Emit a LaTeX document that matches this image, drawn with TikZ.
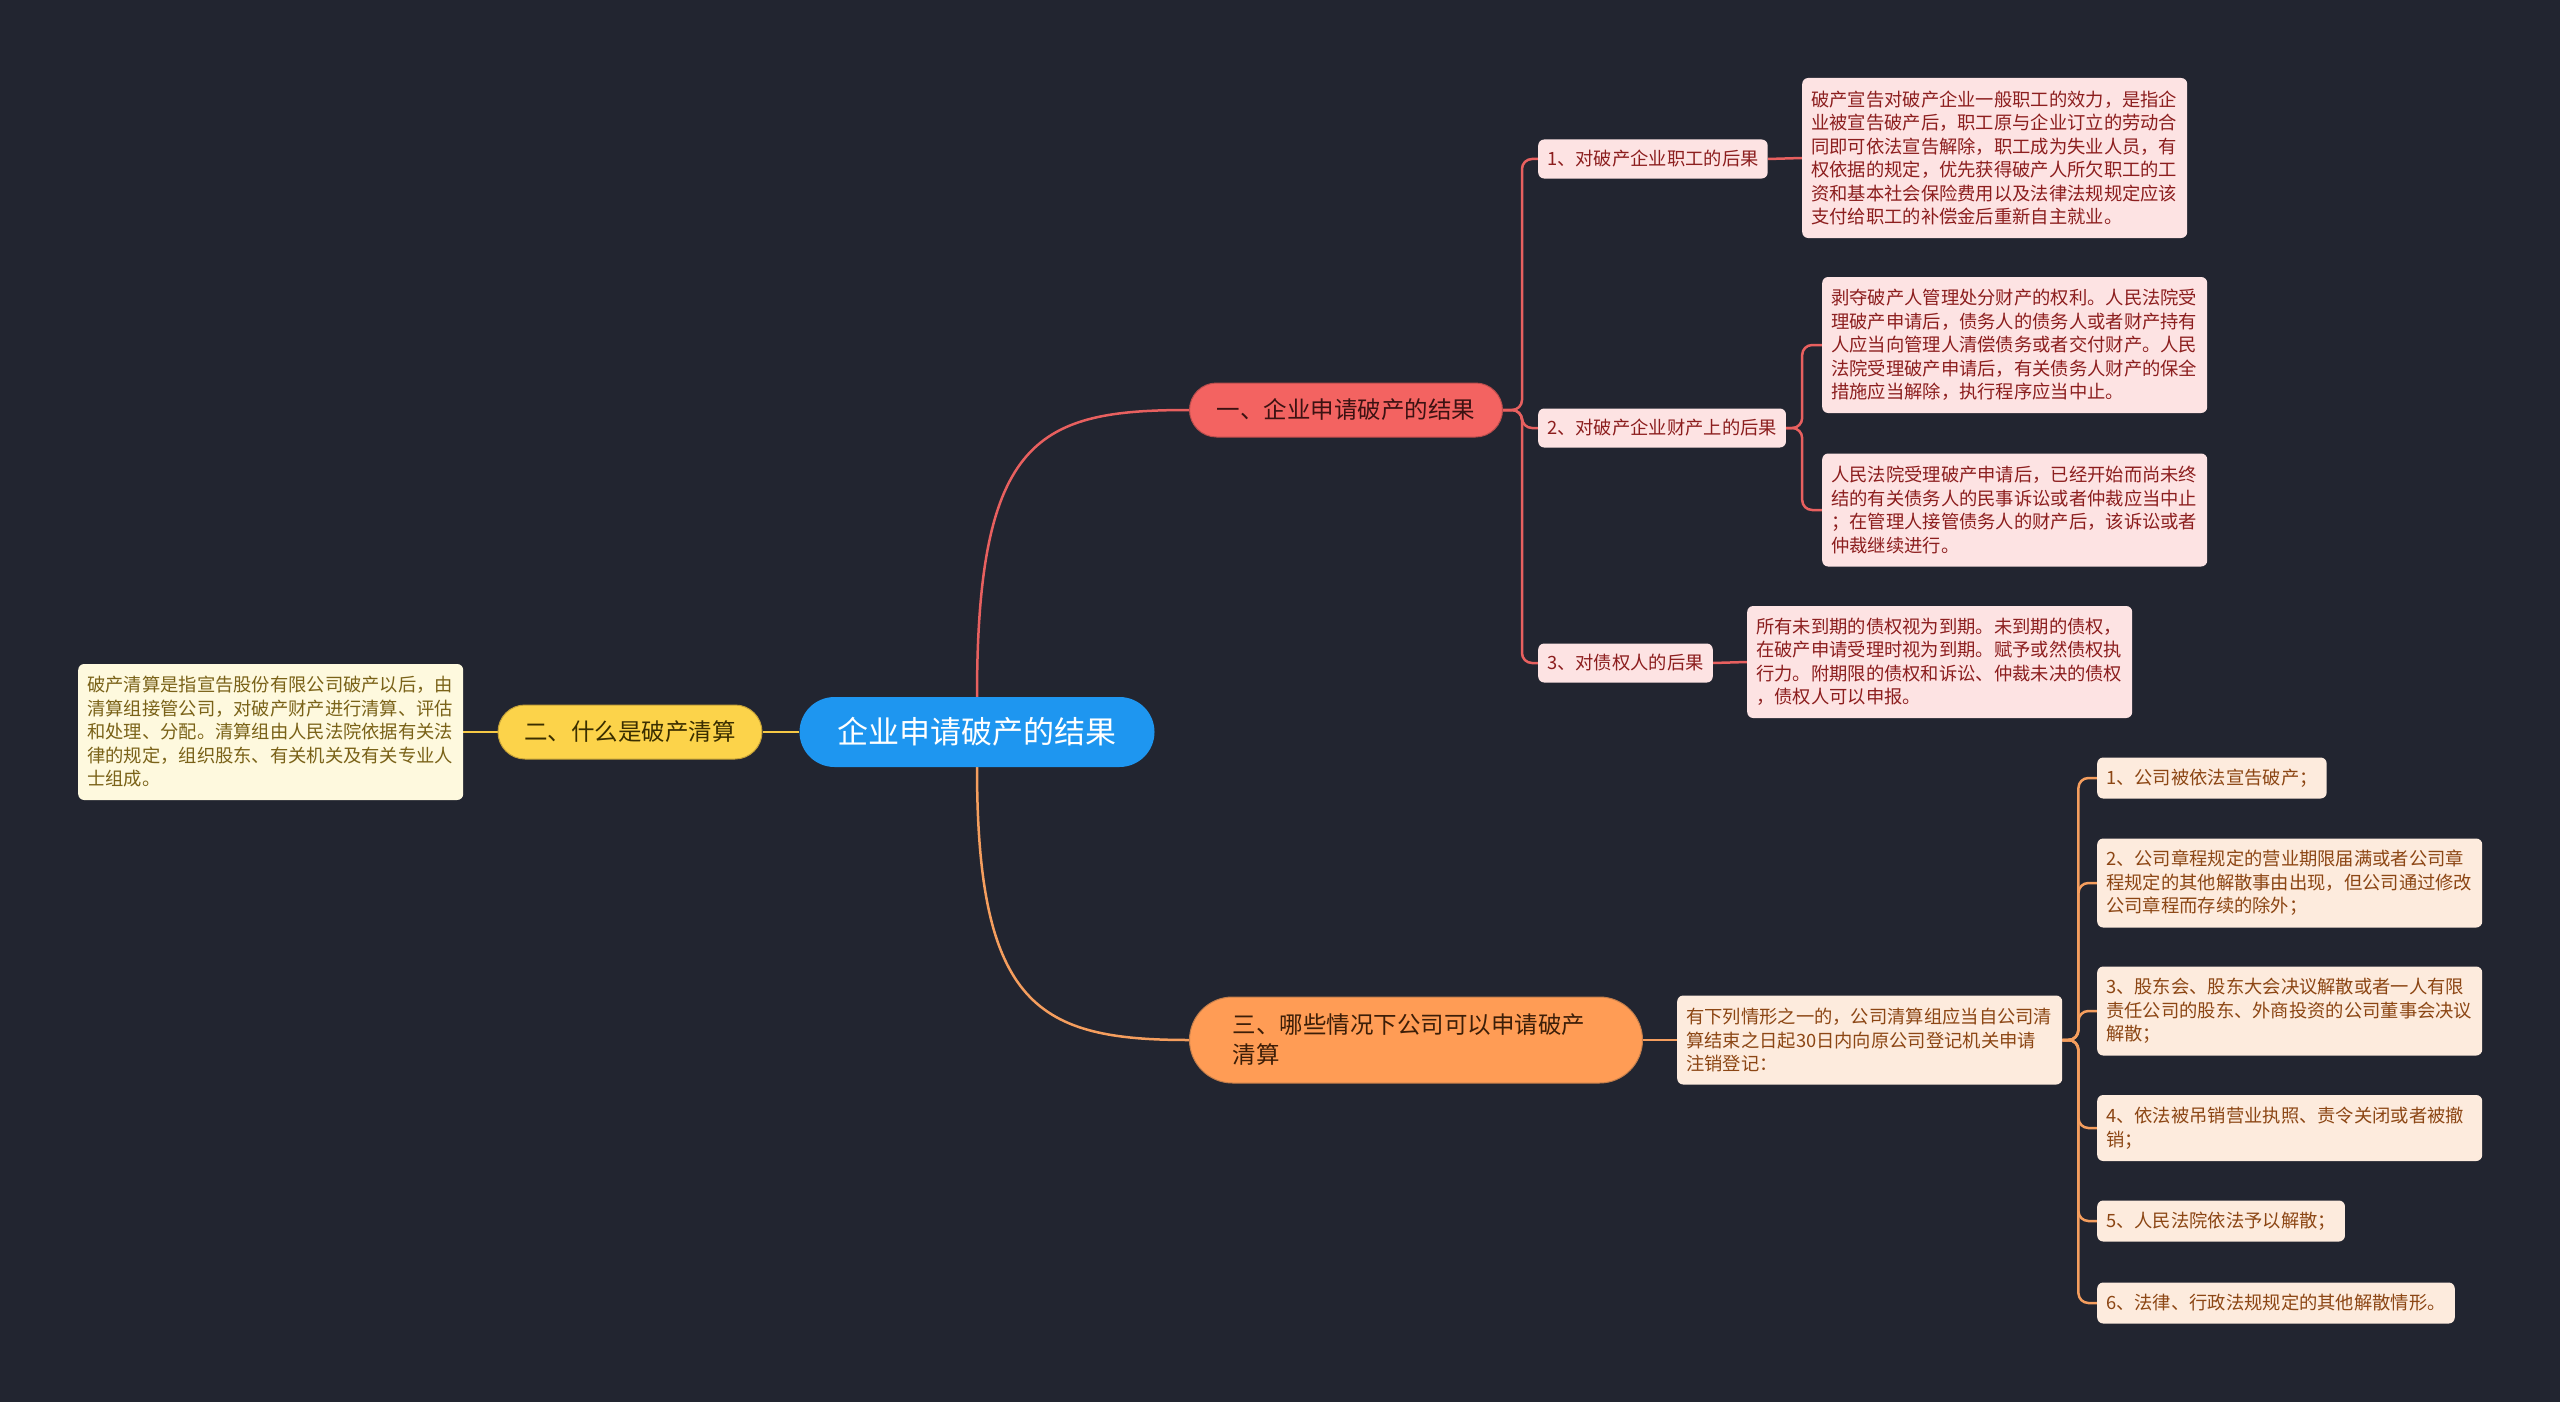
\documentclass[tikz,border=0pt]{standalone}
\usepackage{fontspec}
\setmainfont{Noto Sans CJK SC}
\usetikzlibrary{backgrounds}
\definecolor{bg}{RGB}{34,37,48}
\definecolor{rootc}{RGB}{30,150,240}
\definecolor{rmain}{RGB}{243,99,97}
\definecolor{rmaintext}{RGB}{60,18,18}
\definecolor{rlight}{RGB}{253,227,227}
\definecolor{rtext}{RGB}{140,30,30}
\definecolor{rline}{RGB}{232,96,95}
\definecolor{ymain}{RGB}{252,211,74}
\definecolor{ymaintext}{RGB}{58,46,0}
\definecolor{ylight}{RGB}{254,249,222}
\definecolor{ytext}{RGB}{122,98,24}
\definecolor{yline}{RGB}{246,201,69}
\definecolor{omain}{RGB}{255,156,85}
\definecolor{omaintext}{RGB}{60,30,8}
\definecolor{olight}{RGB}{253,235,221}
\definecolor{otext}{RGB}{140,70,20}
\definecolor{oline}{RGB}{245,158,94}
\tikzset{
  lbox/.style={rounded corners=6pt, inner xsep=9pt, inner ysep=0pt,
    font=\fontsize{18.3}{23.5}\selectfont, align=left, anchor=west},
  multi/.style={text width=367pt},
  rl/.style={lbox, fill=rlight, text=rtext, minimum height=39pt},
  yl/.style={lbox, fill=ylight, text=ytext},
  ol/.style={lbox, fill=olight, text=otext, minimum height=41pt},
  mainbox/.style={inner sep=0pt, font=\fontsize{23.5}{30}\selectfont, line width=1pt},
  rconn/.style={draw=rline, line width=2.5pt, rounded corners=10pt},
  yconn/.style={draw=yline, line width=2.5pt},
  oconn/.style={draw=oline, line width=2.5pt, rounded corners=10pt},
}
\begin{document}
\begin{tikzpicture}[x=1pt,y=-1pt]
\begin{pgfonlayer}{background}
\fill[bg] (0,0) rectangle (2560,1402);
\end{pgfonlayer}
\useasboundingbox (0,0) rectangle (2560,1402);

% root
\node[inner sep=0pt, fill=rootc, text=white, rounded corners=35pt,
  minimum width=355pt, minimum height=70pt, font=\fontsize{31}{36}\selectfont]
  (root) at (977,732) {企业申请破产的结果};

% main branches
\node[mainbox, fill=rmain, draw=rline!80!black, text=rmaintext, rounded corners=27pt,
  minimum width=313pt, minimum height=54pt] (red) at (1346,410) {一、企业申请破产的结果};
\node[mainbox, fill=ymain, draw=yline!80!black, text=ymaintext, rounded corners=27pt,
  minimum width=264pt, minimum height=54pt] (yel) at (630,732) {二、什么是破产清算};
\node[mainbox, fill=omain, draw=oline!80!black, text=omaintext, rounded corners=43pt,
  minimum width=453pt, minimum height=86pt, align=left, text width=367pt]
  (ora) at (1416,1040) {三、哪些情况下公司可以申请破产\\清算};

% yellow text
\node[yl, multi, minimum height=136pt] (ytx) at (78,732)
{破产清算是指宣告股份有限公司破产以后，由\\清算组接管公司，对破产财产进行清算、评估\\和处理、分配。清算组由人民法院依据有关法\\律的规定，组织股东、有关机关及有关专业人\\士组成。};

% red sub-items
\node[rl] (r1) at (1538,159) {1、对破产企业职工的后果};
\node[rl] (r2) at (1538,428) {2、对破产企业财产上的后果};
\node[rl] (r3) at (1538,663) {3、对债权人的后果};
\node[rl, multi, minimum height=160pt] (r1t) at (1802,158)
{破产宣告对破产企业一般职工的效力，是指企\\业被宣告破产后，职工原与企业订立的劳动合\\同即可依法宣告解除，职工成为失业人员，有\\权依据的规定，优先获得破产人所欠职工的工\\资和基本社会保险费用以及法律法规规定应该\\支付给职工的补偿金后重新自主就业。};
\node[rl, multi, minimum height=136pt] (r2a) at (1822,345)
{剥夺破产人管理处分财产的权利。人民法院受\\理破产申请后，债务人的债务人或者财产持有\\人应当向管理人清偿债务或者交付财产。人民\\法院受理破产申请后，有关债务人财产的保全\\措施应当解除，执行程序应当中止。};
\node[rl, multi, minimum height=113pt] (r2b) at (1822,510)
{人民法院受理破产申请后，已经开始而尚未终\\结的有关债务人的民事诉讼或者仲裁应当中止\\；在管理人接管债务人的财产后，该诉讼或者\\仲裁继续进行。};
\node[rl, multi, minimum height=112pt] (r3t) at (1747,662)
{所有未到期的债权视为到期。未到期的债权，\\在破产申请受理时视为到期。赋予或然债权执\\行力。附期限的债权和诉讼、仲裁未决的债权\\，债权人可以申报。};

% orange sub-items
\node[ol, multi, minimum height=89pt] (otx) at (1677,1040)
{有下列情形之一的，公司清算组应当自公司清\\算结束之日起30日内向原公司登记机关申请\\注销登记：};
\node[ol] (o1) at (2097,778) {1、公司被依法宣告破产；};
\node[ol, multi, minimum height=89pt] (o2) at (2097,883)
{2、公司章程规定的营业期限届满或者公司章\\程规定的其他解散事由出现，但公司通过修改\\公司章程而存续的除外；};
\node[ol, multi, minimum height=89pt] (o3) at (2097,1011)
{3、股东会、股东大会决议解散或者一人有限\\责任公司的股东、外商投资的公司董事会决议\\解散；};
\node[ol, multi, minimum height=66pt] (o4) at (2097,1128)
{4、依法被吊销营业执照、责令关闭或者被撤\\销；};
\node[ol] (o5) at (2097,1221) {5、人民法院依法予以解散；};
\node[ol] (o6) at (2097,1303) {6、法律、行政法规规定的其他解散情形。};

\begin{pgfonlayer}{background}
% root to branches
\draw[rline, line width=2.5pt] (root.north) .. controls +(0,-260) and +(-150,0) .. (red.west);
\draw[oline, line width=2.5pt] (root.south) .. controls +(0,240) and +(-150,0) .. (ora.west);
\draw[yconn] (root.west) -- (yel.east);
\draw[yconn] (yel.west) -- (ytx.east);
% red brackets
\foreach \c in {r1,r2,r3} \draw[rconn] (red.east) -- ++(19,0) |- (\c.west);
\draw[rconn] (r1.east) -- (r1t.west);
\foreach \c in {r2a,r2b} \draw[rconn] (r2.east) -- ++(16,0) |- (\c.west);
\draw[rconn] (r3.east) -- (r3t.west);
% orange brackets
\draw[oconn] (ora.east) -- (otx.west);
\foreach \c in {o1,o2,o3,o4,o5,o6} \draw[oconn] (otx.east) -- ++(16,0) |- (\c.west);
\end{pgfonlayer}
\end{tikzpicture}
\end{document}
